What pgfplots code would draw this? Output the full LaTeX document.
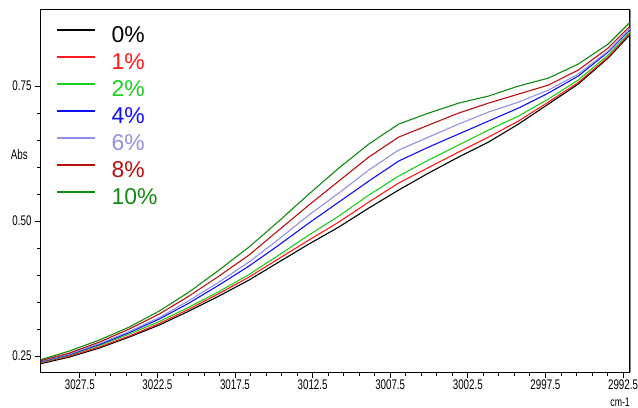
\documentclass[border=0pt]{standalone}
\usepackage{pgfplots}
\usepackage{pgfplotstable}
\pgfplotsset{compat=1.18}
\usepackage{fontspec}
\setmainfont{Liberation Sans}[FakeStretch=0.7]
\newfontfamily\legfont{Liberation Sans}

\definecolor{cA}{RGB}{0,0,0}
\definecolor{cB}{RGB}{255,25,25}
\definecolor{cC}{RGB}{30,205,30}
\definecolor{cD}{RGB}{15,15,245}
\definecolor{cE}{RGB}{145,145,230}
\definecolor{cF}{RGB}{185,15,15}
\definecolor{cG}{RGB}{15,140,15}

\pgfplotstableread{
x       c0     c1     c2     c4     c6     c8     c10
3030.10 0.2352 0.2371 0.2380 0.2389 0.2398 0.2408 0.2426
3028.17 0.2481 0.2500 0.2518 0.2527 0.2537 0.2555 0.2592
3026.24 0.2648 0.2667 0.2694 0.2713 0.2731 0.2759 0.2796
3024.31 0.2852 0.2871 0.2908 0.2935 0.2954 0.3000 0.3037
3022.38 0.3074 0.3102 0.3139 0.3185 0.3213 0.3278 0.3333
3020.46 0.3333 0.3370 0.3407 0.3481 0.3527 0.3611 0.3685
3018.53 0.3611 0.3657 0.3694 0.3815 0.3870 0.3981 0.4092
3016.60 0.3907 0.3963 0.4009 0.4166 0.4240 0.4370 0.4518
3014.67 0.4241 0.4306 0.4371 0.4556 0.4667 0.4834 0.5000
3012.74 0.4574 0.4648 0.4741 0.4963 0.5111 0.5296 0.5500
3010.81 0.4889 0.4982 0.5093 0.5352 0.5519 0.5741 0.5982
3008.88 0.5241 0.5352 0.5482 0.5741 0.5945 0.6185 0.6426
3006.96 0.5574 0.5704 0.5833 0.6111 0.6315 0.6555 0.6796
3005.03 0.5889 0.5991 0.6130 0.6370 0.6556 0.6778 0.7000
3003.10 0.6185 0.6278 0.6407 0.6611 0.6796 0.7000 0.7185
3001.17 0.6463 0.6556 0.6685 0.6852 0.7019 0.7185 0.7315
2999.24 0.6796 0.6852 0.6944 0.7092 0.7203 0.7352 0.7500
2997.31 0.7167 0.7204 0.7260 0.7371 0.7426 0.7519 0.7648
2995.39 0.7537 0.7565 0.7611 0.7685 0.7722 0.7796 0.7907
2993.46 0.8019 0.8038 0.8075 0.8130 0.8149 0.8204 0.8278
2991.53 0.8611 0.8648 0.8667 0.8704 0.8722 0.8759 0.8833
}\spectra

\begin{document}
\begin{tikzpicture}
% page size: 638 x 408 with the axis box placed inside
\path[use as bounding box] (-41bp,-36bp) rectangle (597bp,372bp);
\begin{axis}[
  at={(0,0)}, anchor=south west,
  scale only axis, width=589bp, height=362bp,
  x dir=reverse,
  xmin=2992.05, xmax=3030.0,
  ymin=0.2204, ymax=0.891,
  xtick={2992.5,2997.5,...,3027.5},
  ytick={0.25,0.5,0.75},
  minor x tick num=4, minor y tick num=4,
  tick align=outside, tick pos=left,
  major tick length=6bp, minor tick length=3.5bp,
  every tick/.style={black, line width=0.8bp},
  axis line style={black, line width=1bp},
  /pgf/number format/assume math mode=true,
  xticklabel style={yshift=-1bp, inner ysep=1bp, font=\fontsize{14}{15}\selectfont, /pgf/number format/.cd, fixed, fixed zerofill, precision=1, 1000 sep={}},
  yticklabel style={font=\fontsize{14}{15}\selectfont, /pgf/number format/.cd, fixed, fixed zerofill, precision=2},
  xlabel={cm-1}, ylabel={Abs},
  every axis x label/.style={at={(rel axis cs:1,0)}, anchor=north east, yshift=-26bp, inner sep=0pt, font=\fontsize{12.5}{13}\selectfont},
  every axis y label/.style={at={(rel axis cs:0,0.602)}, anchor=east, xshift=-13bp, inner sep=0pt, font=\fontsize{14}{15}\selectfont},
  legend style={at={(rel axis cs:0,1)}, anchor=north west, xshift=12bp, yshift=-13bp,
    draw=none, fill=none, font=\legfont\fontsize{23}{26}\selectfont,
    nodes={inner ysep=0pt, text height=17bp, text depth=10bp},
    /tikz/every odd column/.append style={column sep=14bp}},
  legend cell align=left,
  legend image code/.code={\draw[#1, line width=1.4bp] (0bp,8.5bp) -- (38bp,8.5bp);},
  every axis plot/.append style={line width=1.1bp},
]
\addplot[cA] table[x=x, y=c0] {\spectra};
\addlegendentry{\textcolor{cA}{0\%}}
\addplot[cB] table[x=x, y=c1] {\spectra};
\addlegendentry{\textcolor{cB}{1\%}}
\addplot[cC] table[x=x, y=c2] {\spectra};
\addlegendentry{\textcolor{cC}{2\%}}
\addplot[cD] table[x=x, y=c4] {\spectra};
\addlegendentry{\textcolor{cD}{4\%}}
\addplot[cE] table[x=x, y=c6] {\spectra};
\addlegendentry{\textcolor{cE}{6\%}}
\addplot[cF] table[x=x, y=c8] {\spectra};
\addlegendentry{\textcolor{cF}{8\%}}
\addplot[cG] table[x=x, y=c10] {\spectra};
\addlegendentry{\textcolor{cG}{10\%}}
\end{axis}
% right edge of the frame is grey
\draw[gray, line width=1bp] (589bp,0bp) -- (589bp,362bp);
\end{tikzpicture}
\end{document}
